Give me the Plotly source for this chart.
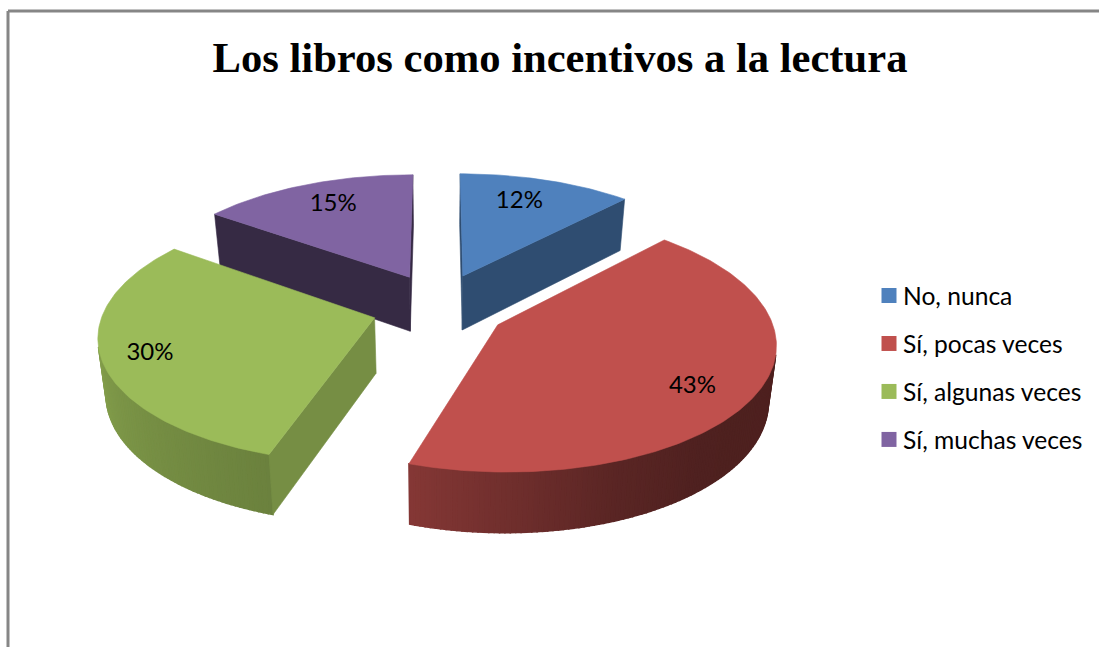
import numpy as np
import plotly.graph_objects as go

TITLE = "Los libros como incentivos a la lectura"
categories = ["No, nunca", "Sí, pocas veces", "Sí, algunas veces", "Sí, muchas veces"]
values = [12, 43, 30, 15]
colors = ["#4F81BD", "#C0504D", "#9BBB59", "#8064A2"]

# brightness of the flat cut faces, per slice
side_shade = [0.60, 0.60, 0.76, 0.42]
# brightness of the curved wall by angle (clockwise from top)
wall_angle = [90, 140, 160, 198, 270]
wall_shade = [0.40, 0.41, 0.47, 0.69, 0.87]
# where the percent labels sit, relative to each slice tip
label_radius = [0.74, 0.797, 0.832, 0.75]
label_angle = [19.2, 125.1, 250.4, 334.2]
draw_order = [3, 0, 2, 1]

# fake 3D camera, in pixels
CX, CY = 439, 307
A, B = 270, 123
PERSP = 0.13
DEPTH = 55
BOTTOM_SHRINK = 0.024
EXPLODE_X = 0.248
EXPLODE_Y = 0.28


def project(X, Y, z=0):
    s = 1 / (1 - PERSP * Y)
    g = 1 - BOTTOM_SHRINK * z
    return CX + g * A * X * s, CY + g * B * Y * s + DEPTH * z * s


def shade(color, f):
    rgb = [int(color[i:i + 2], 16) for i in (1, 3, 5)]
    return "rgb(%d,%d,%d)" % tuple(round(c * f) for c in rgb)


def polar(tip, deg, r=1.0):
    t = np.radians(deg)
    return tip[0] + r * np.sin(t), tip[1] - r * np.cos(t)


def slice_tip(deg):
    t = np.radians(deg)
    return EXPLODE_X * np.sin(t), -EXPLODE_Y * np.cos(t)


def poly(xs, ys, color, name, width=0.6):
    return go.Scatter(
        x=list(xs) + [xs[0]],
        y=list(ys) + [ys[0]],
        mode="lines",
        fill="toself",
        fillcolor=color,
        line=dict(color=color, width=width),
        hoverinfo="skip",
        name=name,
        showlegend=False,
    )


def wall(p, q, color, name, width=0.6):
    # p and q run clockwise along the top edge; skip faces turned away
    c = [project(*p), project(*q), project(*q, 1), project(*p, 1)]
    xs, ys = zip(*c)
    area = sum(xs[i] * ys[(i + 1) % 4] - xs[(i + 1) % 4] * ys[i] for i in range(4))
    if area >= 0:
        return None
    return poly(xs, ys, color, name, width)


fig = go.Figure()

ends = np.cumsum(values) / sum(values) * 360
starts = np.concatenate([[0], ends[:-1]])

for i in draw_order:
    a0, a1 = starts[i], ends[i]
    tip = slice_tip((a0 + a1) / 2)
    arc = [polar(tip, a) for a in np.linspace(a0, a1, int(a1 - a0) + 2)]

    # curved wall first, thick outline so the strips do not show seams
    steps = np.linspace(a0, a1, int(a1 - a0) + 2)
    for a, b in zip(steps[:-1], steps[1:]):
        f = float(np.interp((a + b) / 2, wall_angle, wall_shade))
        t = wall(polar(tip, a), polar(tip, b), shade(colors[i], f), categories[i], 1.5)
        if t is not None:
            fig.add_trace(t)

    faces = [(tip, arc[0], shade(colors[i], side_shade[i])),
             (arc[-1], tip, shade(colors[i], side_shade[i]))]
    for f in faces:
        t = wall(f[0], f[1], f[2], categories[i])
        if t is not None:
            fig.add_trace(t)

    top = [project(*p) for p in [tip] + arc]
    fig.add_trace(poly([p[0] for p in top], [p[1] for p in top], colors[i], categories[i]))

# percent labels
for i in range(len(values)):
    tip = slice_tip((starts[i] + ends[i]) / 2)
    lx, ly = project(*polar(tip, label_angle[i], label_radius[i]))
    fig.add_trace(
        go.Scatter(
            x=[lx],
            y=[ly],
            mode="text",
            text=[f"{values[i]}%"],
            textposition="middle center",
            textfont=dict(family="Lato", size=24, color="#000000"),
            hoverinfo="skip",
            showlegend=False,
        )
    )

# legend swatches
for i, cat in enumerate(categories):
    fig.add_trace(
        go.Scatter(
            x=[None],
            y=[None],
            mode="markers",
            name=cat,
            legendgroup=cat,
            marker=dict(symbol="square", size=15, color=colors[i]),
        )
    )

fig.update_layout(
    width=1099,
    height=647,
    margin=dict(l=0, r=0, t=0, b=0),
    paper_bgcolor="white",
    plot_bgcolor="white",
    title=dict(
        text=f"<b>{TITLE}</b>",
        x=560 / 1099,
        xanchor="center",
        y=1 - 57 / 647,
        yanchor="middle",
        font=dict(family="Liberation Serif", size=42.6, color="#000000"),
    ),
    legend=dict(
        x=863 / 1099,
        y=1 - 273 / 647,
        xanchor="left",
        yanchor="top",
        tracegroupgap=13,
        font=dict(family="Lato", size=24.6, color="#000000"),
        bgcolor="rgba(0,0,0,0)",
    ),
    xaxis=dict(range=[0, 1099], visible=False, fixedrange=True),
    yaxis=dict(range=[647, 0], visible=False, fixedrange=True),
    shapes=[
        dict(type="line", x0=8, y0=11, x1=1099, y1=11, line=dict(color="#868686", width=3)),
        dict(type="line", x0=8, y0=11, x1=8, y1=647, line=dict(color="#868686", width=3)),
    ],
)

fig.write_html(
    "out.html",
    config=dict(displayModeBar=False),
    post_script="document.body.style.margin='0';"
    "document.querySelectorAll('.legendsymbols').forEach(function(n){n.setAttribute('transform','translate(6,0)');});",
)
